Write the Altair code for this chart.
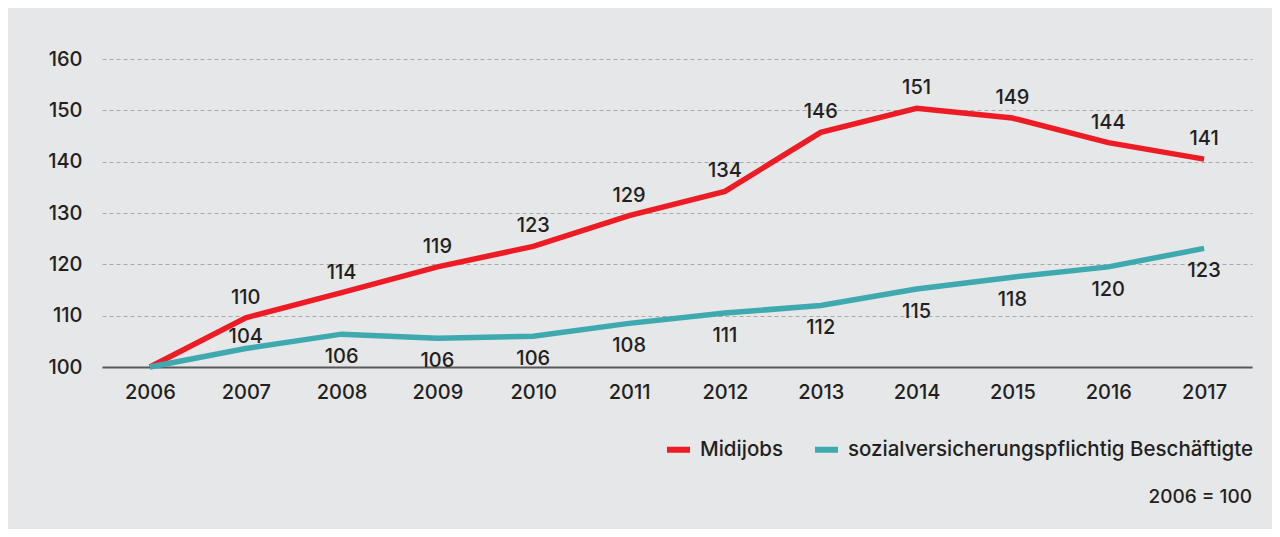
import altair as alt
import pandas as pd

years = list(range(2006, 2018))
midijobs = [100, 109.6, 114.5, 119.5, 123.5, 129.5, 134.2, 145.7, 150.4, 148.5, 143.7, 140.5]
svb = [100, 103.6, 106.4, 105.6, 106.0, 108.5, 110.5, 112.0, 115.2, 117.5, 119.5, 123.1]
midijobs_labels = ["", "110", "114", "119", "123", "129", "134", "146", "151", "149", "144", "141"]
svb_labels = ["", "104", "106", "106", "106", "108", "111", "112", "115", "118", "120", "123"]
series = ["Midijobs", "sozialversicherungspflichtig Beschäftigte"]
colors = ["#ed1c24", "#3fa9b0"]
y_ticks = [100, 110, 120, 130, 140, 150, 160]
note = "2006 = 100"

rows = []
for i, yr in enumerate(years):
    rows.append({"year": yr, "value": midijobs[i], "label": midijobs_labels[i], "series": series[0]})
for i, yr in enumerate(years):
    rows.append({"year": yr, "value": svb[i], "label": svb_labels[i], "series": series[1]})
df = pd.DataFrame(rows)

FONT = "Inter"
FW = 500
TXT = "#231f20"

x = alt.X("year:Q",
          scale=alt.Scale(domain=[2005.5, 2017.5], nice=False, zero=False),
          axis=alt.Axis(values=years, format="d", title=None, ticks=False, grid=False,
                        domain=True, domainColor="#58595b", domainWidth=2,
                        labelFontSize=20, labelFont=FONT, labelFontWeight=FW, labelColor=TXT,
                        labelPadding=15, labelFlush=False))
y = alt.Y("value:Q",
          scale=alt.Scale(domain=[100, 160], nice=False, zero=False),
          axis=alt.Axis(values=y_ticks, title=None, ticks=False, domain=False,
                        grid=True, gridColor="#a7a9ac", gridDash=[4, 3], gridWidth=1,
                        labelFontSize=20, labelFont=FONT, labelFontWeight=FW, labelColor=TXT,
                        labelPadding=20))

color = alt.Color("series:N",
                  scale=alt.Scale(domain=series, range=colors),
                  legend=alt.Legend(title=None, orient="none", direction="horizontal",
                                    legendX=562, legendY=376, symbolType="stroke",
                                    symbolSize=529, symbolStrokeWidth=6,
                                    labelFontSize=20.5, labelFont=FONT, labelFontWeight=FW,
                                    labelColor=TXT,
                                    labelOffset=7, columnPadding=20, padding=0,
                                    labelLimit=600))

base = alt.Chart(df)

lines = base.mark_line(strokeWidth=5.5, strokeCap="butt", strokeJoin="miter").encode(
    x=x, y=y, color=color, order="year:Q")

text_common = dict(fontSize=20, font=FONT, fontWeight=FW, color=TXT, baseline="middle", align="center")

red_labels = base.transform_filter(
    (alt.datum.series == series[0]) & (alt.datum.label != "")
).mark_text(dy=-20, **text_common).encode(x="year:Q", y="value:Q", text="label:N")

teal_labels = base.transform_filter(
    (alt.datum.series == series[1]) & (alt.datum.label != "") & (alt.datum.year != 2007)
).mark_text(dy=23, **text_common).encode(x="year:Q", y="value:Q", text="label:N")

teal_2007 = base.transform_filter(
    (alt.datum.series == series[1]) & (alt.datum.year == 2007)
).mark_text(dy=-12, **text_common).encode(x="year:Q", y="value:Q", text="label:N")

note_df = pd.DataFrame({"t": [note]})
note_mark = alt.Chart(note_df).mark_text(
    fontSize=19, font=FONT, fontWeight=FW, color=TXT, align="right", baseline="middle"
).encode(x=alt.value(1150), y=alt.value(438), text="t:N")

chart = alt.layer(lines, red_labels, teal_labels, teal_2007, note_mark).properties(
    width=1150, height=308,
    autosize=alt.AutoSizeParams(type="none"),
    padding={"left": 94, "top": 51, "right": 20, "bottom": 162},
    background="#e6e7e8",
).configure_view(stroke=None)

chart.save("out.html", embed_options={"renderer": "svg", "actions": False})
